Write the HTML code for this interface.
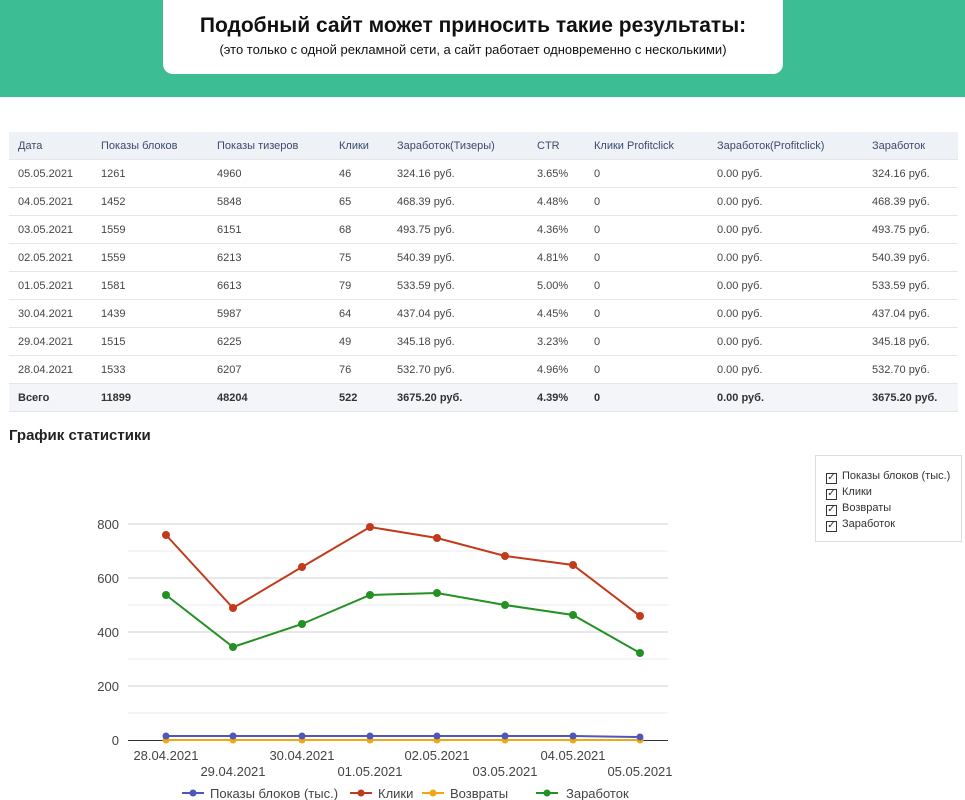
<!DOCTYPE html>
<html><head><meta charset="utf-8"><style>
body{margin:0;width:965px;height:800px;background:#fff;font-family:"Liberation Sans",Arial,sans-serif;position:relative;overflow:hidden}
.band{position:absolute;left:0;top:0;width:965px;height:97px;background:#3dbd93}
.box{position:absolute;left:163px;top:0;width:620px;height:74px;background:#fff;border-radius:0 0 10px 10px;text-align:center}
.box h1{margin:14px 0 0;font-size:21px;font-weight:bold;color:#111}
.box p{margin:4px 0 0;font-size:13px;color:#111}
table{position:absolute;left:9px;top:132px;width:949px;border-collapse:collapse;font-size:11px;color:#444}
td,th{height:27px;padding:0 0 0 9px;text-align:left;border-bottom:1px solid #e3e6ea;font-weight:normal}
th{background:#eef2f7;color:#3a4a6b;height:27px}
tr.tot td{background:#f3f5f8;font-weight:bold;color:#333}
h2{position:absolute;left:9px;top:427px;margin:0;font-size:15px;font-weight:bold;color:#222}
.leg{position:absolute;left:815px;top:455px;width:145px;height:85px;border:1px solid #ddd;font-size:11px;color:#333}
.leg div{margin-left:10px;height:16px;line-height:16px}
.leg div:first-child{margin-top:12px}
.cb{display:inline-block;width:9px;height:9px;border:1px solid #333;margin-right:5px;vertical-align:-1px;font-size:10px;line-height:8px;text-align:center}
</style></head><body>
<div class="band"></div>
<div class="box"><h1>Подобный сайт может приносить такие результаты:</h1><p>(это только с одной рекламной сети, а сайт работает одновременно с несколькими)</p></div>
<table>
<colgroup><col style="width:83px"><col style="width:116px"><col style="width:122px"><col style="width:58px"><col style="width:140px"><col style="width:57px"><col style="width:123px"><col style="width:155px"><col></colgroup>
<tr><th>Дата</th><th>Показы блоков</th><th>Показы тизеров</th><th>Клики</th><th>Заработок(Тизеры)</th><th>CTR</th><th>Клики Profitclick</th><th>Заработок(Profitclick)</th><th>Заработок</th></tr>
<tr><td>05.05.2021</td><td>1261</td><td>4960</td><td>46</td><td>324.16 руб.</td><td>3.65%</td><td>0</td><td>0.00 руб.</td><td>324.16 руб.</td></tr>
<tr><td>04.05.2021</td><td>1452</td><td>5848</td><td>65</td><td>468.39 руб.</td><td>4.48%</td><td>0</td><td>0.00 руб.</td><td>468.39 руб.</td></tr>
<tr><td>03.05.2021</td><td>1559</td><td>6151</td><td>68</td><td>493.75 руб.</td><td>4.36%</td><td>0</td><td>0.00 руб.</td><td>493.75 руб.</td></tr>
<tr><td>02.05.2021</td><td>1559</td><td>6213</td><td>75</td><td>540.39 руб.</td><td>4.81%</td><td>0</td><td>0.00 руб.</td><td>540.39 руб.</td></tr>
<tr><td>01.05.2021</td><td>1581</td><td>6613</td><td>79</td><td>533.59 руб.</td><td>5.00%</td><td>0</td><td>0.00 руб.</td><td>533.59 руб.</td></tr>
<tr><td>30.04.2021</td><td>1439</td><td>5987</td><td>64</td><td>437.04 руб.</td><td>4.45%</td><td>0</td><td>0.00 руб.</td><td>437.04 руб.</td></tr>
<tr><td>29.04.2021</td><td>1515</td><td>6225</td><td>49</td><td>345.18 руб.</td><td>3.23%</td><td>0</td><td>0.00 руб.</td><td>345.18 руб.</td></tr>
<tr><td>28.04.2021</td><td>1533</td><td>6207</td><td>76</td><td>532.70 руб.</td><td>4.96%</td><td>0</td><td>0.00 руб.</td><td>532.70 руб.</td></tr>
<tr class="tot"><td>Всего</td><td>11899</td><td>48204</td><td>522</td><td>3675.20 руб.</td><td>4.39%</td><td>0</td><td>0.00 руб.</td><td>3675.20 руб.</td></tr>
</table>
<h2>График статистики</h2>
<div class="leg"><div><span class="cb">✓</span>Показы блоков (тыс.)</div><div><span class="cb">✓</span>Клики</div><div><span class="cb">✓</span>Возвраты</div><div><span class="cb">✓</span>Заработок</div></div>
<svg style="position:absolute;left:0;top:0" width="965" height="800" font-family="Liberation Sans,Arial,sans-serif" font-size="13" fill="#444">
<g stroke="#ebebeb" stroke-width="1">
<line x1="128" x2="668" y1="551" y2="551"/><line x1="128" x2="668" y1="605" y2="605"/><line x1="128" x2="668" y1="659" y2="659"/><line x1="128" x2="668" y1="713" y2="713"/></g>
<g stroke="#d0d0d0" stroke-width="1">
<line x1="128" x2="668" y1="524" y2="524"/><line x1="128" x2="668" y1="578" y2="578"/><line x1="128" x2="668" y1="632" y2="632"/><line x1="128" x2="668" y1="686" y2="686"/></g>
<line x1="128" x2="668" y1="740.5" y2="740.5" stroke="#333"/>
<g text-anchor="end"><text x="119" y="529">800</text><text x="119" y="583">600</text><text x="119" y="637">400</text><text x="119" y="691">200</text><text x="119" y="745">0</text></g>
<g text-anchor="middle"><text x="166" y="760">28.04.2021</text><text x="233" y="776">29.04.2021</text><text x="302" y="760">30.04.2021</text><text x="370" y="776">01.05.2021</text><text x="437" y="760">02.05.2021</text><text x="505" y="776">03.05.2021</text><text x="573" y="760">04.05.2021</text><text x="640" y="776">05.05.2021</text></g>
<g fill="none" stroke-width="2">
<polyline stroke="#f3a712" points="166,740 233,740 302,740 370,740 437,740 505,740 573,740 640,740"/>
<polyline stroke="#4f58b8" points="166,736 233,736 302,736 370,736 437,736 505,736 573,736 640,737"/>
<polyline stroke="#c23a1c" points="166,535 233,608 302,567 370,527 437,538 505,556 573,565 640,616"/>
<polyline stroke="#249124" points="166,595 233,647 302,624 370,595 437,593 505,605 573,615 640,653"/>
</g>
<g fill="#f3a712"><circle cx="166" cy="740" r="3.5"/><circle cx="233" cy="740" r="3.5"/><circle cx="302" cy="740" r="3.5"/><circle cx="370" cy="740" r="3.5"/><circle cx="437" cy="740" r="3.5"/><circle cx="505" cy="740" r="3.5"/><circle cx="573" cy="740" r="3.5"/><circle cx="640" cy="740" r="3.5"/></g>
<g fill="#4f58b8"><circle cx="166" cy="736" r="3.5"/><circle cx="233" cy="736" r="3.5"/><circle cx="302" cy="736" r="3.5"/><circle cx="370" cy="736" r="3.5"/><circle cx="437" cy="736" r="3.5"/><circle cx="505" cy="736" r="3.5"/><circle cx="573" cy="736" r="3.5"/><circle cx="640" cy="737" r="3.5"/></g>
<g fill="#c23a1c"><circle cx="166" cy="535" r="4"/><circle cx="233" cy="608" r="4"/><circle cx="302" cy="567" r="4"/><circle cx="370" cy="527" r="4"/><circle cx="437" cy="538" r="4"/><circle cx="505" cy="556" r="4"/><circle cx="573" cy="565" r="4"/><circle cx="640" cy="616" r="4"/></g>
<g fill="#249124"><circle cx="166" cy="595" r="4"/><circle cx="233" cy="647" r="4"/><circle cx="302" cy="624" r="4"/><circle cx="370" cy="595" r="4"/><circle cx="437" cy="593" r="4"/><circle cx="505" cy="605" r="4"/><circle cx="573" cy="615" r="4"/><circle cx="640" cy="653" r="4"/></g>
<g stroke-width="2"><line x1="182" x2="204" y1="793" y2="793" stroke="#4f58b8"/><circle cx="193" cy="793" r="3.5" fill="#4f58b8"/>
<line x1="350" x2="372" y1="793" y2="793" stroke="#c23a1c"/><circle cx="361" cy="793" r="3.5" fill="#c23a1c"/>
<line x1="422" x2="444" y1="793" y2="793" stroke="#f3a712"/><circle cx="433" cy="793" r="3.5" fill="#f3a712"/>
<line x1="536" x2="558" y1="793" y2="793" stroke="#249124"/><circle cx="547" cy="793" r="3.5" fill="#249124"/></g>
<text x="210" y="798">Показы блоков (тыс.)</text><text x="378" y="798">Клики</text><text x="450" y="798">Возвраты</text><text x="566" y="798">Заработок</text>
</svg>
</body></html>
